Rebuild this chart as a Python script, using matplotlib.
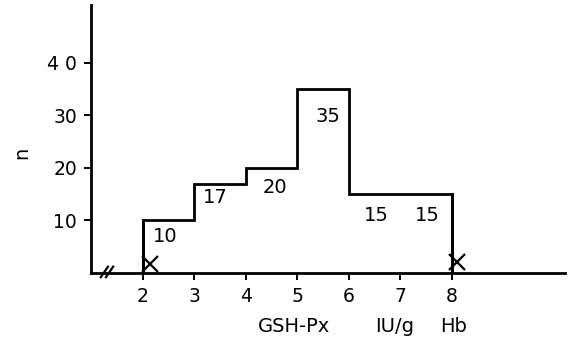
import matplotlib
matplotlib.use("Agg")
import matplotlib.pyplot as plt
import numpy as np

# Data
bin_edges = [2, 3, 4, 5, 6, 7, 8]
counts = [10, 17, 20, 35, 15, 15]
count_labels = ["10", "17", "20", "35", "15", "15"]
label_x = [2.43, 3.4, 4.56, 5.6, 6.54, 7.52]
label_y = [6.9, 14.3, 16.2, 29.7, 11.0, 11.0]
x_ticks = [2, 3, 4, 5, 6, 7, 8]
y_ticks = [10, 20, 30, 40]
y_tick_labels = ["10", "20", "30", "4 0"]
cut_points_x = [2.14, 8.1]
cut_points_y = [1.8, 2.0]
xlabel_parts = ["GSH-Px", "IU/g", "Hb"]

W, H = 573, 349
fig = plt.figure(figsize=(W / 100, H / 100), dpi=100)
left, right, bottom, top = 91, 565, 273, 5
ax = fig.add_axes([left / W, 1 - bottom / H, (right - left) / W, (bottom - top) / H])

ax.stairs(counts, bin_edges, color="black", linewidth=2.0, baseline=0, fill=False)
ax.plot([bin_edges[0], bin_edges[0]], [0, counts[0]], color="black", lw=2.0)
ax.plot([bin_edges[-1], bin_edges[-1]], [0, counts[-1]], color="black", lw=2.0)

for x, y, t in zip(label_x, label_y, count_labels):
    ax.text(x, y, t, ha="center", va="center", fontsize=14)

ax.plot(cut_points_x, cut_points_y, linestyle="none", marker="x", markersize=12,
        markeredgewidth=1.6, color="black")

ax.set_xlim(0.99, 10.2)
ax.set_ylim(0, 51)
ax.set_xticks(x_ticks)
ax.set_xticklabels([str(v) for v in x_ticks])
ax.set_yticks(y_ticks)
ax.set_yticklabels(y_tick_labels)
ax.tick_params(axis="both", direction="out", length=5, width=1.4, labelsize=13.5, pad=5)
for s in ["top", "right"]:
    ax.spines[s].set_visible(False)
for s in ["left", "bottom"]:
    ax.spines[s].set_linewidth(2.0)

# axis break marks
for dx in (0.0, 0.1):
    ax.plot([1.18 + dx, 1.32 + dx], [-0.8, 1.2], color="black", lw=1.6, clip_on=False)

fig.text(22 / W, 1 - 153 / H, "n", rotation=90, ha="center", va="center", fontsize=14)
for px, t in zip([294, 395, 454], xlabel_parts):
    fig.text(px / W, 1 - 327 / H, t, ha="center", va="center", fontsize=14)

fig.savefig("out.png", dpi=100)
